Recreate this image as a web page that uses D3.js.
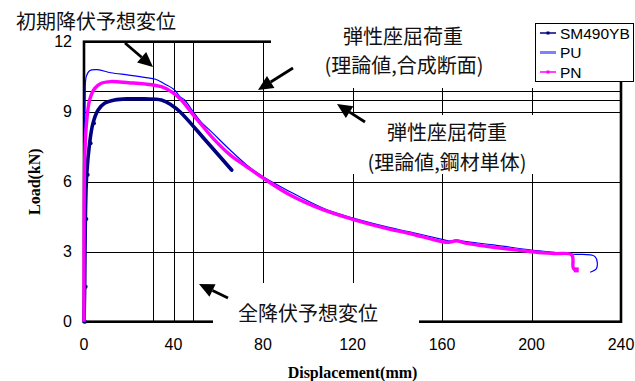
<!DOCTYPE html>
<html>
<head>
<meta charset="utf-8">
<script src="https://cdn.jsdelivr.net/npm/d3@7"></script>
<style>
  body { margin: 0; background: #fff; }
  svg { display: block; }
</style>
</head>
<body>
<svg id="chart" width="635" height="381"></svg>
<script>
// ---- data -----------------------------------------------------------------
var xTicks = [0, 40, 80, 120, 160, 200, 240];
var yTicks = [0, 3, 6, 9, 12];

var smX = [0, 0.3, 0.6, 1.2, 2.5, 4, 6.3, 9.2, 13.7, 19.7, 27, 34.6, 39, 42.9, 54.8, 66];
var smY = [0, 1.5, 4.4, 6.3, 7.65, 8.5, 9.07, 9.36, 9.5, 9.55, 9.55, 9.5, 9.29, 9.0, 7.72, 6.5];

var puX = [0, 0.2, 0.5, 1, 2.5, 6, 12, 20, 27, 32, 36, 40.5, 42.9, 45, 48.8, 52, 57.7, 65.3, 72.7, 80.1, 92.1, 107, 120, 136.8, 145, 160, 163, 166.5, 170, 183, 200, 210, 218.7, 228.4, 229.1, 226.2];
var puY = [0, 5, 9.5, 10.5, 10.76, 10.8, 10.67, 10.57, 10.47, 10.39, 10.19, 9.93, 9.64, 9.5, 9.0, 8.6, 8.07, 7.36, 6.72, 6.21, 5.57, 4.86, 4.45, 4.03, 3.86, 3.53, 3.46, 3.5, 3.44, 3.29, 3.07, 2.97, 2.89, 2.79, 2.29, 2.12];

var pnX = [0, 0.3, 1, 2.5, 4.8, 7.7, 12, 20, 27, 34.6, 39, 43.5, 48.8, 52, 57.7, 65.3, 72.7, 80.1, 92.1, 107, 120, 136.8, 145, 160, 163, 166.5, 170, 183, 200, 210, 218, 218.7, 220];
var pnY = [0, 6.9, 8.36, 9.5, 10.0, 10.22, 10.29, 10.24, 10.19, 10.07, 9.86, 9.5, 8.86, 8.5, 7.86, 7.15, 6.64, 6.15, 5.43, 4.79, 4.39, 3.96, 3.79, 3.43, 3.4, 3.47, 3.38, 3.19, 3.0, 2.92, 2.86, 2.29, 2.22];

// reference lines: predicted yield displacements and elastic buckling loads
var refX = [30.8, 48.7];
var refY = [9.87, 9.52];

var seriesNames = ["SM490YB", "PU", "PN"];
var seriesColors = ["#000080", "#0000ff", "#ff00ff"];

// ---------------------------------------------------------------------------
var svg = d3.select("#chart");
var x = d3.scaleLinear().domain([0, 240]).range([84, 621]);
var y = d3.scaleLinear().domain([0, 12]).range([321.7, 41.7]);

var grid = svg.append("g").attr("stroke", "#000").attr("stroke-width", 1);
grid.selectAll("line.gx")
    .data(xTicks.slice(1, -1).concat(refX))
    .enter().append("line")
    .attr("x1", (d) => Math.round(x(d)) + 0.5).attr("x2", (d) => Math.round(x(d)) + 0.5)
    .attr("y1", y(12)).attr("y2", y(0));
grid.selectAll("line.gy")
    .data(yTicks.slice(1, -1).concat(refY))
    .enter().append("line")
    .attr("y1", (d) => Math.round(y(d)) + 0.5).attr("y2", (d) => Math.round(y(d)) + 0.5)
    .attr("x1", x(0)).attr("x2", x(240));

// plot border
svg.append("rect")
    .attr("x", x(0)).attr("y", y(12))
    .attr("width", x(240) - x(0)).attr("height", y(0) - y(12))
    .attr("fill", "none").attr("stroke", "#000").attr("stroke-width", 2.6);

// series
function pts(xs, ys) { return xs.map((d, i) => [d, ys[i]]); }
var line = d3.line()
    .x((d) => x(d[0])).y((d) => y(d[1]))
    .curve(d3.curveCatmullRom.alpha(0.5));

var sm = pts(smX, smY), pu = pts(puX, puY), pn = pts(pnX, pnY);

svg.append("path").attr("d", line(sm))
    .attr("fill", "none").attr("stroke", seriesColors[0]).attr("stroke-width", 3.6)
    .attr("stroke-linejoin", "round").attr("stroke-linecap", "round");
svg.selectAll("circle.sm").data(sm.slice(0, 6)).enter().append("circle")
    .attr("cx", (d) => x(d[0]) + 1).attr("cy", (d) => y(d[1])).attr("r", 2)
    .attr("fill", seriesColors[0]);

svg.append("path").attr("d", line(pu))
    .attr("fill", "none").attr("stroke", seriesColors[1]).attr("stroke-width", 1.2);

svg.append("path").attr("d", line(pn))
    .attr("fill", "none").attr("stroke", seriesColors[2]).attr("stroke-width", 3.4)
    .attr("stroke-linejoin", "round");
svg.selectAll("rect.pn").data(pn.slice(-1)).enter().append("rect")
    .attr("x", (d) => x(d[0]) - 2.5).attr("y", (d) => y(d[1]) - 2.5)
    .attr("width", 5).attr("height", 5).attr("fill", seriesColors[2]);

// white annotation boxes that sit over grid and border
var boxes = [[271, 10, 264, 78], [350, 115, 195, 59], [213, 283, 206, 50]];
svg.selectAll("rect.box").data(boxes).enter().append("rect")
    .attr("x", (d) => d[0]).attr("y", (d) => d[1])
    .attr("width", (d) => d[2]).attr("height", (d) => d[3])
    .attr("fill", "#fff");

// tick labels
var tickFont = "'Liberation Sans', Arial, sans-serif";
svg.selectAll("text.xt").data(xTicks).enter().append("text")
    .attr("x", (d) => x(d)).attr("y", 344)
    .attr("text-anchor", "middle").attr("dominant-baseline", "central")
    .attr("font-family", tickFont).attr("font-size", 16).text((d) => d);
svg.selectAll("text.yt").data(yTicks).enter().append("text")
    .attr("x", 72).attr("y", (d) => y(d))
    .attr("text-anchor", "end").attr("dominant-baseline", "central")
    .attr("font-family", tickFont).attr("font-size", 16).text((d) => d);

// axis titles
var serif = "'Liberation Serif', 'Times New Roman', serif";
svg.append("text")
    .attr("x", x(120)).attr("y", 372)
    .attr("text-anchor", "middle").attr("dominant-baseline", "central")
    .attr("font-family", serif).attr("font-weight", "bold").attr("font-size", 16)
    .text("Displacement(mm)");
svg.append("text")
    .attr("transform", "translate(34," + y(6) + ") rotate(-90)")
    .attr("text-anchor", "middle").attr("dominant-baseline", "central")
    .attr("font-family", serif).attr("font-weight", "bold").attr("font-size", 16)
    .text("Load(kN)");

// annotations
var cjk = "'Noto Sans CJK JP', sans-serif";
var notes = [
    ["初期降伏予想変位", 96, 20],
    ["弾性座屈荷重", 403, 35],
    ["(理論値,合成断面)", 404, 64],
    ["弾性座屈荷重", 447, 131],
    ["(理論値,鋼材単体)", 447, 161],
    ["全降伏予想変位", 308, 312]
];
svg.selectAll("text.note").data(notes).enter().append("text")
    .attr("x", (d) => d[1]).attr("y", (d) => d[2])
    .attr("text-anchor", "middle").attr("dominant-baseline", "central")
    .attr("font-family", cjk).attr("font-size", 20).attr("fill", "#111")
    .text((d) => d[0]);

// arrows: [fromX, fromY, toX, toY]
var arrows = [[125, 43, 153, 67], [293, 68, 258, 90], [365, 122, 337, 104], [228, 298, 199, 284]];
arrows.forEach(function (a) {
    var dx = a[2] - a[0], dy = a[3] - a[1];
    var len = Math.sqrt(dx * dx + dy * dy);
    var ux = dx / len, uy = dy / len;
    var hl = 15, hw = 7;
    var bx = a[2] - ux * hl, by = a[3] - uy * hl;
    svg.append("line")
        .attr("x1", a[0]).attr("y1", a[1]).attr("x2", bx).attr("y2", by)
        .attr("stroke", "#000").attr("stroke-width", 2.8);
    svg.append("polygon")
        .attr("points", [[a[2], a[3]], [bx - uy * hw, by + ux * hw], [bx + uy * hw, by - ux * hw]]
            .map((p) => p.join(",")).join(" "))
        .attr("fill", "#000");
});

// legend
var lg = svg.append("g");
lg.append("rect").attr("x", 535.5).attr("y", 23.5).attr("width", 98).attr("height", 58)
    .attr("fill", "#fff").attr("stroke", "#000").attr("stroke-width", 1);
var rows = lg.selectAll("g.row").data(seriesNames).enter().append("g")
    .attr("transform", (d, i) => "translate(0," + (33 + i * 19.5) + ")");
rows.append("line").attr("x1", 540).attr("x2", 556).attr("y1", 0).attr("y2", 0)
    .attr("stroke", (d, i) => i == 1 ? "#8080ff" : seriesColors[i])
    .attr("stroke-width", (d, i) => i == 1 ? 3 : 1.5);
rows.filter((d, i) => i != 1).append("rect")
    .attr("x", 546.5).attr("y", -1.5).attr("width", 3).attr("height", 3)
    .attr("fill", (d) => seriesColors[seriesNames.indexOf(d)]);
rows.append("text").attr("x", 560).attr("y", 0).attr("dominant-baseline", "central")
    .attr("font-family", tickFont).attr("font-size", 15.5).text((d) => d);
</script>
</body>
</html>
